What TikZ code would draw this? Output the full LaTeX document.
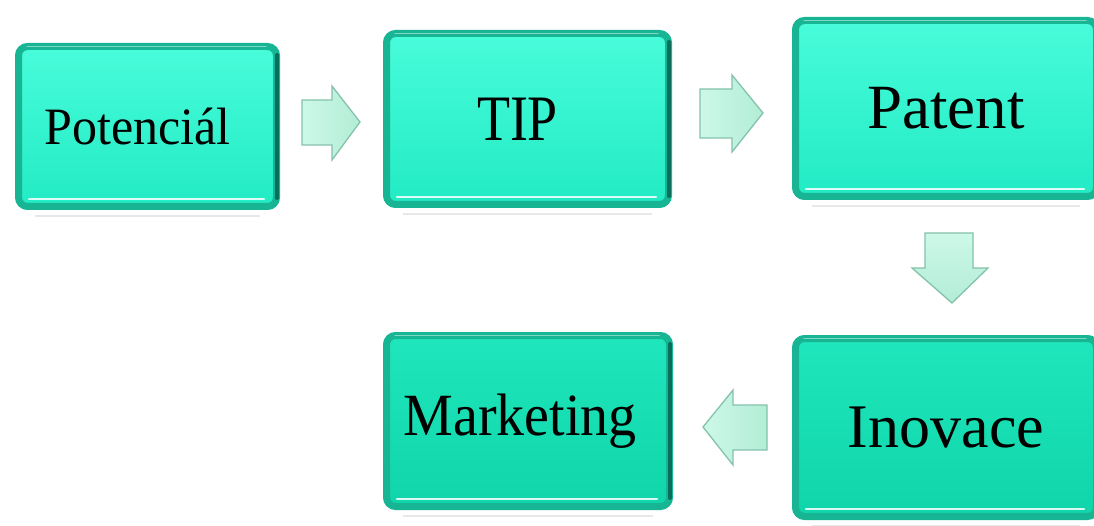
\documentclass[tikz,border=0pt]{standalone}
\usepackage{graphicx}
\usepackage{fontspec}
\setmainfont{Liberation Serif}
\usetikzlibrary{calc}
\definecolor{rim}{HTML}{17B593}
\definecolor{rimdark}{HTML}{0A6E5C}
\definecolor{faceA}{HTML}{48FCDA}
\definecolor{faceB}{HTML}{22EBC4}
\definecolor{faceC}{HTML}{1FE6BC}
\definecolor{faceD}{HTML}{10D5AA}
\definecolor{arrA}{HTML}{CDF8E8}
\definecolor{arrB}{HTML}{B2EDD6}
\definecolor{arredge}{HTML}{84C2AC}
\newcommand\mkdeco[1]{%
  \draw[rimdark, line width=4pt, line cap=round]
    ($(#1.north east)+(-3,12)$) -- ($(#1.south east)+(-3,-12)$);
  \draw[white, opacity=.85, line width=2.5pt, line cap=round]
    ($(#1.south west)+(14,-11)$) -- ($(#1.south east)+(-16,-11)$);
  \draw[white, opacity=.45, line width=1.5pt, line cap=round]
    ($(#1.north west)+(12,3.5)$) -- ($(#1.north east)+(-14,3.5)$);
  \draw[black!15, opacity=.6, line width=2.5pt]
    ($(#1.south west)+(20,6)$) -- ($(#1.south east)+(-20,6)$);
}
\begin{document}
\begin{tikzpicture}[x=1pt,y=-1pt,
  box/.style={rectangle, rounded corners=9pt, draw=rim, line width=7pt,
    inner sep=0pt, text=black, align=center},
  toprow/.style={top color=faceA, bottom color=faceB},
  botrow/.style={top color=faceC, bottom color=faceD},
  barr/.style={draw=arredge, line width=1.3pt, line join=miter,
    left color=arrA, right color=arrB}]
\useasboundingbox (0,0) rectangle (1094,526);
\clip (0,0) rectangle (1094,526);

% boxes
\node[box, toprow, minimum width=258pt, minimum height=160pt,
  font=\fontsize{50}{50}\selectfont] (pot) at (147.5,126.5)
  {\hspace*{-20pt}\scalebox{1}[1.05]{Potenciál}};
\node[box, toprow, minimum width=282pt, minimum height=171pt,
  font=\fontsize{54}{54}\selectfont] (tip) at (527.5,119)
  {\hspace*{-20pt}\scalebox{1}[1.2]{TIP}};
\node[box, toprow, minimum width=301pt, minimum height=176pt,
  font=\fontsize{63}{63}\selectfont] (pat) at (946,108.5) {Patent};
\node[box, botrow, minimum width=301pt, minimum height=178pt,
  font=\fontsize{62}{62}\selectfont] (ino) at (946,427.5)
  {\raisebox{-3pt}{Inovace}};
\node[box, botrow, minimum width=283pt, minimum height=171pt,
  font=\fontsize{56}{56}\selectfont] (mkt) at (528,421)
  {\hspace*{-16pt}\raisebox{-5pt}{\scalebox{1}[1.07]{Marketing}}};

\mkdeco{pot}
\mkdeco{tip}
\mkdeco{pat}
\mkdeco{ino}
\mkdeco{mkt}

% block arrows
\draw[barr] (302,100) -- (332,100) -- (332,86) -- (360,122) -- (332,160)
  -- (332,145) -- (302,145) -- cycle;
\draw[barr] (700,89) -- (732,89) -- (732,75) -- (763,113) -- (732,152)
  -- (732,138) -- (700,138) -- cycle;
\draw[barr, top color=arrA, bottom color=arrB] (925,233) -- (973,233) -- (973,268) -- (988,268)
  -- (952,303) -- (912,268) -- (925,268) -- cycle;
\draw[barr] (767,405) -- (733,405) -- (733,390) -- (703,427) -- (733,465)
  -- (733,450) -- (767,450) -- cycle;
\end{tikzpicture}
\end{document}
